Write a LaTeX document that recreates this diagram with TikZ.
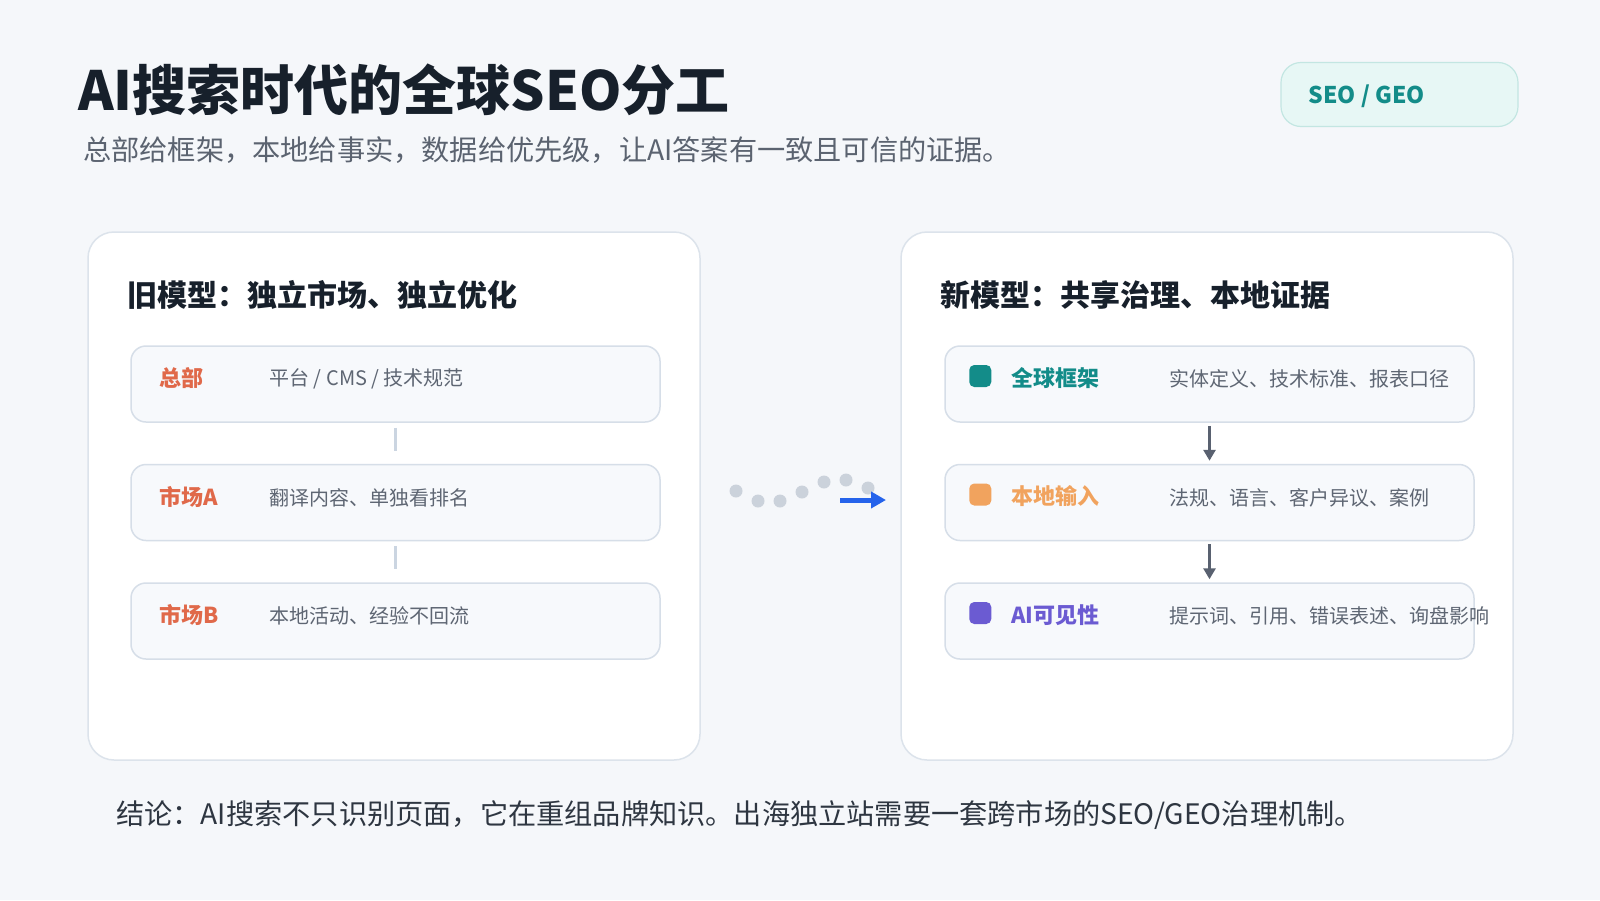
\documentclass[tikz,border=0pt]{standalone}
\usepackage{fontspec}
\setmainfont{Noto Sans CJK SC}
\usetikzlibrary{shapes,arrows.meta,positioning}

\definecolor{pagebg}{HTML}{F5F7FA}
\definecolor{ink}{HTML}{17202B}
\definecolor{subgrey}{HTML}{5B6370}
\definecolor{softgrey}{HTML}{5E6673}
\definecolor{endgrey}{HTML}{2E3641}
\definecolor{cardline}{HTML}{DCE3EB}
\definecolor{rowline}{HTML}{D6DEE8}
\definecolor{rowfill}{HTML}{F7F9FC}
\definecolor{sepgrey}{HTML}{CBD5E1}
\definecolor{arrowgrey}{HTML}{596170}
\definecolor{dotgrey}{HTML}{CBD2DB}
\definecolor{flowblue}{HTML}{2563EB}
\definecolor{oldred}{HTML}{E0694A}
\definecolor{tealc}{HTML}{138C89}
\definecolor{orangec}{HTML}{F1A35E}
\definecolor{purplec}{HTML}{6B5BD2}
\definecolor{badgefill}{HTML}{E7F7F5}
\definecolor{badgeline}{HTML}{C3E6E2}

\tikzset{
	card/.style={draw=cardline, fill=white, line width=1.5pt, rounded corners=26pt, minimum width=612pt, minimum height=528pt},
	rowbox/.style={draw=rowline, fill=rowfill, line width=1.5pt, rounded corners=15pt, minimum width=529pt, minimum height=76pt},
	rowtag/.style={anchor=west, inner sep=0pt, text=#1, font=\bfseries\fontsize{22}{26}\selectfont},
	rowtext/.style={anchor=west, inner sep=0pt, text=softgrey, font=\fontsize{20}{24}\selectfont},
	heading/.style={anchor=west, inner sep=0pt, text=ink, font=\bfseries\fontsize{30}{36}\selectfont},
	dotmark/.style={fill=#1, rounded corners=5pt, minimum size=22pt, inner sep=0pt},
	sepline/.style={draw=sepgrey, line width=3pt},
	flowarrow/.style={-{Triangle[length=11pt,width=12pt]}, draw=arrowgrey, line width=3pt},
}

\begin{document}
\begin{tikzpicture}[x=1pt,y=-1pt]
	\fill[pagebg] (0,0) rectangle (1600,900);
	\useasboundingbox (0,0) rectangle (1600,900);

	\node[anchor=west, inner sep=0pt, text=ink, font=\bfseries\fontsize{54}{64}\selectfont] (title) at (78,90) {AI搜索时代的全球SEO分工};
	\node[anchor=west, inner sep=0pt, text=subgrey, font=\fontsize{28.2}{34}\selectfont] (subtitle) at (83,150) {总部给框架，本地给事实，数据给优先级，让AI答案有一致且可信的证据。};

	\node[draw=badgeline, fill=badgefill, line width=1.2pt, rounded corners=20pt, minimum width=237pt, minimum height=64pt] (badge) at (1399.5,94.5) {};
	\node[anchor=west, inner sep=0pt, text=tealc, font=\bfseries\fontsize{23}{27}\selectfont] (badgetext) at ([xshift=28pt,yshift=-1.5pt]badge.west) {SEO / GEO};

	\node[card] (oldcard) at (394,496) {};
	\node[card] (newcard) at (1207,496) {};
	\node[heading] (oldhead) at (127,295) {旧模型：独立市场、独立优化};
	\node[heading] (newhead) at (940,295) {新模型：共享治理、本地证据};

	\node[rowbox] (hq) at (395.5,384) {};
	\node[rowbox] (marketa) at (395.5,502.5) {};
	\node[rowbox] (marketb) at (395.5,621) {};
	\node[rowtag=oldred] (hqtag) at ([xshift=29pt,yshift=6pt]hq.west) {总部};
	\node[rowtext] (hqtext) at ([xshift=139pt,yshift=5pt]hq.west) {平台 / CMS / 技术规范};
	\node[rowtag=oldred] (marketatag) at ([xshift=29pt,yshift=6pt]marketa.west) {市场A};
	\node[rowtext] (marketatext) at ([xshift=139pt,yshift=5pt]marketa.west) {翻译内容、单独看排名};
	\node[rowtag=oldred] (marketbtag) at ([xshift=29pt,yshift=6pt]marketb.west) {市场B};
	\node[rowtext] (marketbtext) at ([xshift=139pt,yshift=5pt]marketb.west) {本地活动、经验不回流};
	\draw[sepline, shorten <=5pt, shorten >=13pt] (hq) -- (marketa);
	\draw[sepline, shorten <=5pt, shorten >=13pt] (marketa) -- (marketb);

	\node[rowbox] (global) at (1209.5,384) {};
	\node[rowbox] (local) at (1209.5,502.5) {};
	\node[rowbox] (aivis) at (1209.5,621) {};
	\node[dotmark=tealc] (globaldot) at ([xshift=36pt,yshift=8pt]global.west) {};
	\node[rowtag=tealc] (globaltag) at ([xshift=67pt,yshift=6pt]global.west) {全球框架};
	\node[rowtext] (globaltext) at ([xshift=225pt,yshift=5pt]global.west) {实体定义、技术标准、报表口径};
	\node[dotmark=orangec] (localdot) at ([xshift=36pt,yshift=8pt]local.west) {};
	\node[rowtag=orangec] (localtag) at ([xshift=67pt,yshift=6pt]local.west) {本地输入};
	\node[rowtext] (localtext) at ([xshift=225pt,yshift=5pt]local.west) {法规、语言、客户异议、案例};
	\node[dotmark=purplec] (aivisdot) at ([xshift=36pt,yshift=8pt]aivis.west) {};
	\node[rowtag=purplec] (aivistag) at ([xshift=67pt,yshift=6pt]aivis.west) {AI可见性};
	\node[rowtext] (aivistext) at ([xshift=225pt,yshift=5pt]aivis.west) {提示词、引用、错误表述、询盘影响};
	\draw[flowarrow, shorten <=3pt, shorten >=3pt] (global) -- (local);
	\draw[flowarrow, shorten <=3pt, shorten >=3pt] (local) -- (aivis);

	\foreach \dx/\dy in {736/491, 758/501, 780/501, 802/492, 824/482, 846/480, 868/488}
		\fill[dotgrey] (\dx,\dy) circle (6.5pt);
	\coordinate (flowfrom) at (840,500);
	\coordinate (flowto) at (886,500);
	\draw[-{Triangle[length=15pt,width=16pt]}, draw=flowblue, line width=5pt] (flowfrom) -- (flowto);

	\node[anchor=west, inner sep=0pt, text=endgrey, font=\fontsize{28.2}{34}\selectfont] (summary) at (116,815) {结论：AI搜索不只识别页面，它在重组品牌知识。出海独立站需要一套跨市场的SEO/GEO治理机制。};
\end{tikzpicture}
\end{document}
